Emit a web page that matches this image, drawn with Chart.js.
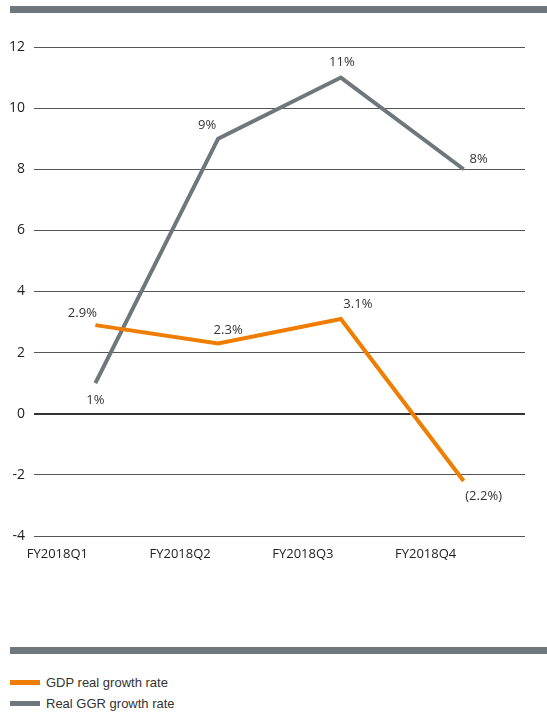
<!DOCTYPE html>
<html>
<head>
<meta charset="utf-8">
<script src="https://cdn.jsdelivr.net/npm/chart.js@4.4.0/dist/chart.umd.min.js"></script>
<style>
  body { margin: 0; background: #fff; width: 547px; height: 712px; position: relative; overflow: hidden; }
  #wrap { position: absolute; left: 0; top: 0; width: 547px; height: 600px; }
  .bar { position: absolute; left: 10px; width: 537px; height: 7px; background: #6d777c; }
  .legend { position: absolute; left: 10px; font: 13px "Liberation Sans", Arial, sans-serif; color: #333; }
  .legend span { display: inline-block; width: 30px; height: 5px; vertical-align: middle; margin-right: 6px; position: relative; top: -1px; }
</style>
</head>
<body>
<div class="bar" style="top:6px"></div>
<div id="wrap"><canvas id="growthChart"></canvas></div>
<div class="bar" style="top:647px"></div>
<div class="legend" style="top:675px"><span style="background:#ee7d00"></span>GDP real growth rate</div>
<div class="legend" style="top:696px"><span style="background:#6d777c"></span>Real GGR growth rate</div>
<script>
const quarters = ['FY2018Q1', 'FY2018Q2', 'FY2018Q3', 'FY2018Q4'];
const gdpGrowth = [2.9, 2.3, 3.1, -2.2];
const ggrGrowth = [1, 9, 11, 8];
const gdpLabels = ['2.9%', '2.3%', '3.1%', '(2.2%)'];
const ggrLabels = ['1%', '9%', '11%', '8%'];
const yTicks = [-4, -2, 0, 2, 4, 6, 8, 10, 12];

// label offsets from each point (dx, dy)
const gdpOffsets = [[-13, -12], [10, -13], [17, -15], [20, 15]];
const ggrOffsets = [[0, 17], [-11, -13], [1, -15], [15, -10]];

const pointLabels = {
  id: 'pointLabels',
  afterDatasetsDraw(chart) {
    const ctx = chart.ctx;
    ctx.save();
    ctx.font = '13px "Open Sans", sans-serif';
    ctx.fillStyle = '#333';
    ctx.textAlign = 'center';
    ctx.textBaseline = 'middle';
    const sets = [[gdpLabels, gdpOffsets], [ggrLabels, ggrOffsets]];
    sets.forEach(function (s, di) {
      chart.getDatasetMeta(di).data.forEach(function (pt, i) {
        ctx.fillText(s[0][i], pt.x + s[1][i][0], pt.y + s[1][i][1]);
      });
    });
    ctx.restore();
  }
};

const ctx = document.getElementById('growthChart').getContext('2d');
new Chart(ctx, {
  type: 'line',
  data: {
    labels: quarters,
    datasets: [{
      label: 'GDP real growth rate',
      data: gdpGrowth,
      borderColor: '#ee7d00',
      borderWidth: 4,
      pointRadius: 0,
      tension: 0
    }, {
      label: 'Real GGR growth rate',
      data: ggrGrowth,
      borderColor: '#6d777c',
      borderWidth: 4,
      pointRadius: 0,
      tension: 0
    }]
  },
  options: {
    responsive: true,
    maintainAspectRatio: false,
    animation: false,
    layout: { padding: { left: 0, top: 47, right: 22, bottom: 34 } },
    plugins: { legend: { display: false }, tooltip: { enabled: false } },
    scales: {
      x: {
        offset: true,
        grid: { display: false },
        border: { display: false },
        ticks: {
          color: '#222',
          font: { family: 'Open Sans', size: 13 },
          labelOffset: -38,
          padding: 2,
          maxRotation: 0
        },
        afterFit(scale) { scale.height = 30; }
      },
      y: {
        min: -4,
        max: 12,
        afterBuildTicks(scale) { scale.ticks = yTicks.map(v => ({ value: v })); },
        grid: {
          drawTicks: false,
          color: ctx => ctx.tick && ctx.tick.value === 0 ? '#333' : '#555',
          lineWidth: ctx => ctx.tick && ctx.tick.value === 0 ? 2 : 1
        },
        border: { display: false },
        ticks: {
          color: '#222',
          font: { family: 'Open Sans', size: 14 },
          padding: 9
        },
        afterFit(scale) { scale.width = 34; }
      }
    }
  },
  plugins: [pointLabels]
});
</script>
</body>
</html>
